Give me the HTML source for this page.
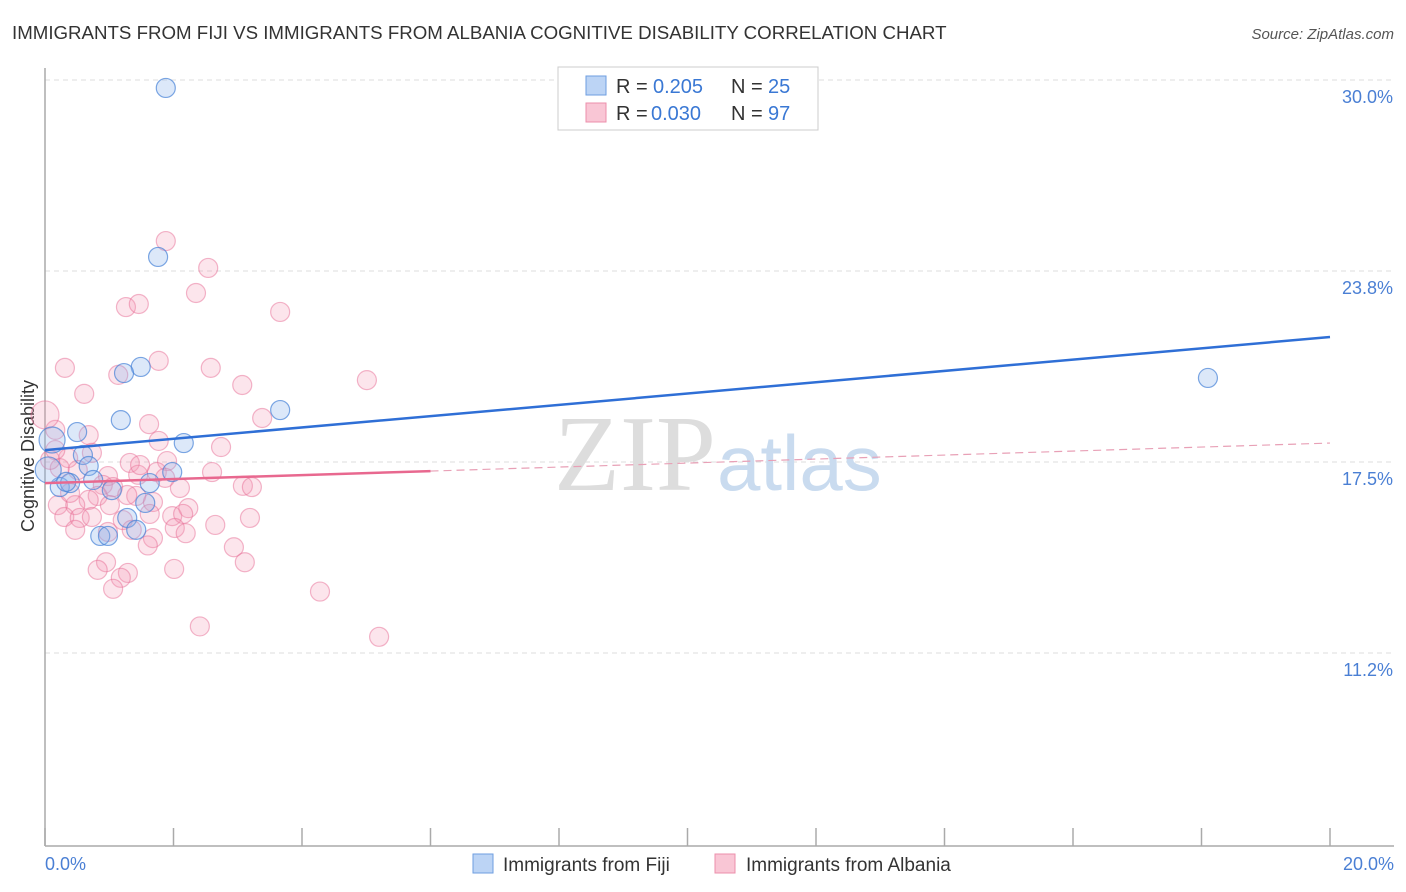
<!DOCTYPE html>
<html><head><meta charset="utf-8"><style>
body{margin:0;background:#fff;font-family:"Liberation Sans",sans-serif;}
svg{display:block}
</style></head><body>
<svg id="chart" width="1406" height="892">
<text x="12" y="39" font-size="18.7" fill="#333">IMMIGRANTS FROM FIJI VS IMMIGRANTS FROM ALBANIA COGNITIVE DISABILITY CORRELATION CHART</text>
<text x="1394" y="39" font-size="15" fill="#555" font-style="italic" text-anchor="end">Source: ZipAtlas.com</text>
<g id="grid"></g>
<text x="716" y="490" font-size="108" font-family="Liberation Serif,serif" fill="#ddd" text-anchor="end">ZIP</text>
<text x="717" y="490" font-size="78" fill="#c9dbef">atlas</text>
<line x1="45" y1="68" x2="45" y2="846" stroke="#aaa" stroke-width="1.5"/>
<line x1="45" y1="846" x2="1394" y2="846" stroke="#aaa" stroke-width="1.5"/>
<g id="xticks"></g>
<text x="45" y="870" font-size="18" fill="#4a7fd4">0.0%</text>
<text x="1394" y="870" font-size="18" fill="#4a7fd4" text-anchor="end">20.0%</text>
<text transform="translate(34,456) rotate(-90)" font-size="18" fill="#333" text-anchor="middle">Cognitive Disability</text>
<g id="pts"></g>
<g id="lines"></g>
<g>
<rect x="558" y="67" width="260" height="63" fill="#fff" stroke="#ccc"/>
<rect x="586" y="76" width="20" height="19" fill="#bcd4f5" stroke="#6e9ee0"/>
<rect x="586" y="103" width="20" height="19" fill="#f9c6d5" stroke="#ec8fab"/>
<g font-size="20">
<text x="616" y="93" fill="#333">R =</text><text x="653" y="93" fill="#3a78d4">0.205</text>
<text x="731" y="93" fill="#333">N =</text><text x="768" y="93" fill="#3a78d4">25</text></g>
<g font-size="20">
<text x="616" y="120" fill="#333">R =</text><text x="651" y="120" fill="#3a78d4">0.030</text>
<text x="731" y="120" fill="#333">N =</text><text x="768" y="120" fill="#3a78d4">97</text></g>
</g>
<g>
<rect x="473" y="854" width="20" height="19" fill="#bcd4f5" stroke="#6e9ee0"/>
<text x="503" y="871" font-size="19" fill="#333">Immigrants from Fiji</text>
<rect x="715" y="854" width="20" height="19" fill="#f9c6d5" stroke="#ec8fab"/>
<text x="746" y="871" font-size="19" fill="#333">Immigrants from Albania</text>
</g>
</svg>
<script>
const yTicks=[30.0,23.8,17.5,11.2];
const yTickVals=[30.0,23.75,17.5,11.25];
const xTickVals=[0,2,4,6,8,10,12,14,16,18,20];
const fijiX=[1.88,1.76,1.49,1.23,1.18,3.66,0.50,2.16,0.59,0.68,1.98,0.23,0.39,0.75,1.04,1.63,1.28,1.56,1.42,0.86,0.98,18.10,0.11,0.05,0.33];
const fijiY=[29.74,24.21,20.61,20.41,18.87,19.20,18.48,18.12,17.73,17.37,17.17,16.68,16.81,16.91,16.58,16.81,15.67,16.16,15.28,15.08,15.08,20.25,18.22,17.24,16.85];
const albX=[1.88,2.54,2.35,1.26,1.46,3.66,0.31,1.14,1.77,2.58,3.07,5.01,0.61,3.38,1.62,0.68,1.77,2.74,0.16,0.0,0.73,1.32,1.90,2.60,0.23,0.51,0.98,1.45,1.74,0.90,1.06,2.10,3.08,3.22,1.42,1.68,0.82,0.68,0.47,0.20,0.30,0.54,0.73,1.21,1.63,1.98,2.23,2.15,3.19,2.65,0.47,0.98,1.35,1.68,2.02,2.19,1.60,2.94,3.11,0.95,0.82,1.29,1.18,2.01,1.06,4.28,2.41,5.20,0.08,0.36,1.01,1.28,1.87,1.48,0.39,0.16];
const albY=[24.73,23.85,23.03,22.57,22.67,22.41,20.58,20.35,20.81,20.58,20.02,20.18,19.73,18.94,18.74,18.38,18.19,17.99,18.55,19.04,17.80,17.47,17.53,17.17,17.30,17.24,17.04,17.08,17.17,16.75,16.68,16.65,16.72,16.68,16.39,16.19,16.39,16.26,16.09,16.09,15.70,15.67,15.70,15.60,15.80,15.73,15.99,15.80,15.67,15.44,15.28,15.21,15.28,15.01,15.34,15.17,14.77,14.71,14.22,14.22,13.97,13.87,13.71,14.00,13.35,13.26,12.12,11.78,17.57,17.63,16.09,16.42,16.98,17.40,16.49,17.89];
const fijiTrend=[17.89,21.59];
const albTrend=[16.81,18.12];
const albSolidEnd=6;
const sx=v=>45+v/20*1285;
const sy=v=>80+(30-v)*30.56;
const NS="http://www.w3.org/2000/svg";
function mk(tag,attrs,parent){const e=document.createElementNS(NS,tag);for(const k in attrs)e.setAttribute(k,attrs[k]);parent.appendChild(e);return e;}
const grid=document.getElementById('grid');
yTickVals.forEach((v,i)=>{
 const l=mk('line',{x1:45,x2:1394,y1:sy(v),y2:sy(v),stroke:'#ddd','stroke-dasharray':'5,4'},grid);
 
 
 const t=mk('text',{x:1393,y:sy(v)+23,'font-size':18,fill:'#4a7fd4','text-anchor':'end'},grid);
 t.textContent=yTicks[i].toFixed(1)+'%';
 
 
});
const xt=document.getElementById('xticks');
xTickVals.forEach(v=>{
 const l=mk('line',{x1:sx(v),x2:sx(v),y1:828,y2:846,stroke:'#aaa','stroke-width':1.5},xt);
 
 
});
const pts=document.getElementById('pts');
albX.forEach((x,i)=>{
 const r=(x===0)?14:9.5;
 const c=mk('circle',{cx:sx(x),cy:sy(albY[i]),r:r,fill:'rgba(244,150,180,0.25)',stroke:'rgba(232,110,150,0.5)','stroke-width':1.2},pts);
 
 
});
fijiX.forEach((x,i)=>{
 const r=(x<0.15)?13:9.5;
 const c=mk('circle',{cx:sx(x),cy:sy(fijiY[i]),r:r,fill:'rgba(140,180,235,0.3)',stroke:'rgba(70,130,215,0.7)','stroke-width':1.2},pts);
 
 
});
const ln=document.getElementById('lines');
const fl=mk('line',{x1:sx(0),y1:sy(fijiTrend[0]),x2:sx(20),y2:sy(fijiTrend[1]),stroke:'#2f6fd6','stroke-width':2.5},ln);


const ay=x=>albTrend[0]+(albTrend[1]-albTrend[0])*x/20;
const al=mk('line',{x1:sx(0),y1:sy(ay(0)),x2:sx(albSolidEnd),y2:sy(ay(albSolidEnd)),stroke:'#e8688f','stroke-width':2.5},ln);


const ad=mk('line',{x1:sx(albSolidEnd),y1:sy(ay(albSolidEnd)),x2:sx(20),y2:sy(ay(20)),stroke:'#e8a0b6','stroke-width':1.2,'stroke-dasharray':'8,5'},ln);


</script>
</body></html>
